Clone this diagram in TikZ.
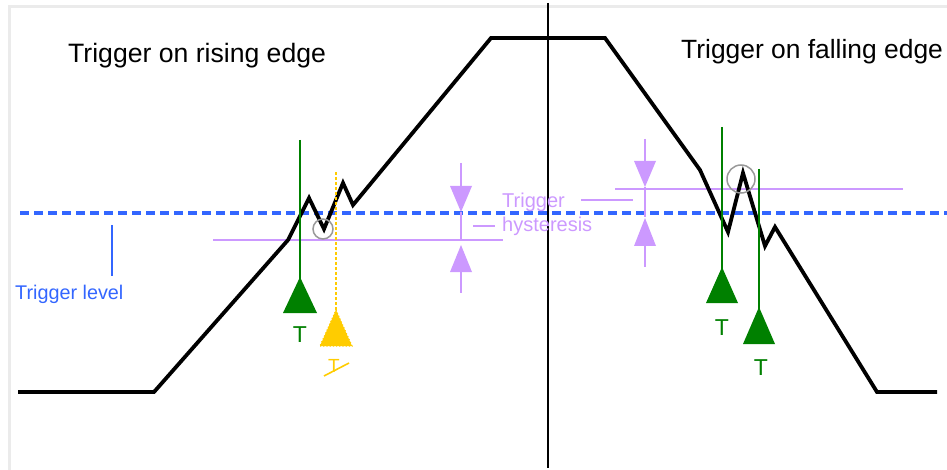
\documentclass[tikz,border=0pt]{standalone}
\usepackage{fontspec}
\setmainfont{Liberation Sans}
\definecolor{frameg}{HTML}{EBEBEB}
\definecolor{lvlblue}{HTML}{3366FF}
\definecolor{hystpurp}{HTML}{CC99FF}
\definecolor{trggreen}{HTML}{008000}
\definecolor{trgyellow}{HTML}{FFCC00}
\definecolor{circgray}{HTML}{999999}
\tikzset{
  wave/.style={line width=3.8pt, line join=miter, black},
  lvl/.style={line width=3.6pt, lvlblue, dash pattern=on 9pt off 5pt},
  hyst/.style={line width=1.8pt, hystpurp},
  hystthin/.style={line width=1.4pt, hystpurp},
  trgline/.style={line width=1.6pt, trggreen},
  txt/.style={inner sep=0pt, anchor=base west},
  ttxt/.style={inner sep=0pt, anchor=base},
}
\begin{document}
\begin{tikzpicture}[x=1pt,y=-1pt]
\useasboundingbox (0,0) rectangle (947,470);
% frame
\draw[frameg, line width=3pt] (9,472) -- (9,7) -- (949,7);
% center line
\draw[black, line width=1.8pt] (548,3) -- (548,468);
% trigger level
\draw[lvl] (20,213) -- (947,213);
\draw[lvlblue, line width=1.5pt] (112,225) -- (112,276);
\node[txt, lvlblue, font=\fontsize{19.8}{22}\selectfont] (tl) at (15,299) {Trigger level};
% titles
\node[txt, font=\fontsize{26.6}{30}\selectfont] (t1) at (68,63) {Trigger on rising edge};
\node[txt, font=\fontsize{26.4}{30}\selectfont] (t2) at (681,59) {Trigger on falling edge};
% hysteresis lines
\draw[hystthin] (213,240) -- (503,240);
\draw[hystthin] (615,189) -- (903,189);
% rising-side hysteresis arrows
\draw[hyst] (461,163) -- (461,186);
\fill[hystpurp] (450,186) -- (472,186) -- (461,212) -- cycle;
\draw[hyst] (461,212) -- (461,240);
\fill[hystpurp] (450,272) -- (472,272) -- (461,245) -- cycle;
\draw[hyst] (461,272) -- (461,293);
\draw[hystthin] (473,226) -- (495,226);
% falling-side hysteresis arrows
\draw[hyst] (645,139) -- (645,161);
\fill[hystpurp] (634,161) -- (656,161) -- (645,187) -- cycle;
\draw[hyst] (645,187) -- (645,217);
\fill[hystpurp] (634,246) -- (656,246) -- (645,218) -- cycle;
\draw[hyst] (645,246) -- (645,267);
\draw[hystthin] (581,200) -- (633,200);
% hysteresis text
\node[txt, hystpurp, font=\fontsize{20}{22}\selectfont] (h1) at (502,208) {Trigger};
\node[txt, hystpurp, font=\fontsize{20}{22}\selectfont] (h2) at (502,232) {hysteresis};
% waveform
\draw[wave] (18,392) -- (154,392) -- (288,240) -- (309,198) -- (324,229) -- (343,183) -- (353,205) -- (491,38) -- (605,38)
  -- (700,170) -- (728,232) -- (743,173) -- (765,246) -- (775,227) -- (877,392) -- (937,392);
% circles
\draw[circgray, line width=1.5pt] (323,229) circle (10);
\draw[circgray, line width=1.5pt] (741,179) circle (14);
% rising green trigger
\draw[trgline] (300,140) -- (300,280);
\fill[trggreen] (283,313) -- (317,313) -- (300,277) -- cycle;
\node[ttxt, trggreen, font=\fontsize{23}{26}\selectfont] (g1) at (300,342) {T};
% yellow dotted trigger
\draw[trgyellow, line width=1.8pt, dash pattern=on 3pt off 2pt] (336,172) -- (336,312);
\fill[trgyellow] (320,346) -- (352,346) -- (336,310) -- cycle;
\draw[trgyellow, line width=1.2pt, dotted] (320,346) -- (352,346) -- (336,310) -- cycle;
\node[ttxt, trgyellow, font=\fontsize{19}{22}\selectfont] (y1) at (334,372) {T};
\draw[trgyellow, line width=1.6pt] (324,376) -- (349,363);
% falling green triggers
\draw[trgline] (722,127) -- (722,270);
\fill[trggreen] (706,303) -- (738,303) -- (722,267) -- cycle;
\node[ttxt, trggreen, font=\fontsize{23}{26}\selectfont] (g2) at (722,335) {T};
\draw[trgline] (759,169) -- (759,310);
\fill[trggreen] (743,344) -- (775,344) -- (759,307) -- cycle;
\node[ttxt, trggreen, font=\fontsize{23}{26}\selectfont] (g3) at (761,375) {T};
\end{tikzpicture}
\end{document}
